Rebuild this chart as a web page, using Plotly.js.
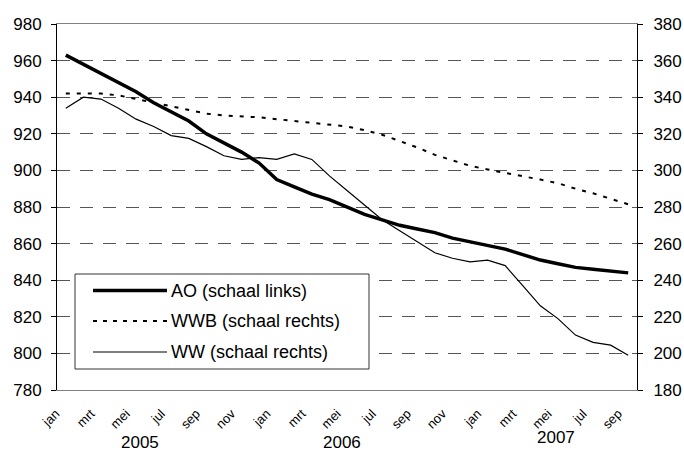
<!DOCTYPE html>
<html>
<head>
<meta charset="utf-8">
<script src="https://cdn.plot.ly/plotly-3.0.1.min.js"></script>
<style>html,body{margin:0;padding:0;background:#fff;}#chart{width:684px;height:455px;}</style>
</head>
<body>
<div id="chart"></div>
<script>
// Months Jan 2005 - Sep 2007
var months = ["jan","feb","mrt","apr","mei","jun","jul","aug","sep","okt","nov","dec",
              "jan","feb","mrt","apr","mei","jun","jul","aug","sep","okt","nov","dec",
              "jan","feb","mrt","apr","mei","jun","jul","aug","sep"];
var years = ["2005","2006","2007"];
var seriesNames = ["AO (schaal links)","WWB (schaal rechts)","WW (schaal rechts)"];
// AO (left axis)
var ao = [963,958,953,948,943,937,932,927,920,915,910,904,
          895,891,887,884,880,876,873,870,868,866,863,861,
          859,857,854,851,849,847,846,845,844];
// WWB (right axis)
var wwb = [342,342,342,341,339,337,335,333,331,330,329.5,329,
           328,327,326,325,324,322,319.5,316,312.5,308.5,305.5,302.5,
           300.5,298.5,296.8,295,293,290,287.5,284.5,281.5];
// WW (right axis)
var ww = [334,340,339,334,328,324,319,317.5,313,308,306,307,
          306,309,306,297,289,281,273,267,261,255,252,250,
          251,248,237,226,219,210,206,204.5,199];

var xIdx = months.map(function(_, i){ return i; });
var tickvals = xIdx.filter(function(i){ return i % 2 === 0; });
var ticktext = tickvals.map(function(i){ return months[i]; });

var FONT = "Liberation Sans, Arial, sans-serif";

var traces = [
  {x: xIdx, y: ao, name: seriesNames[0], type: "scatter", mode: "lines",
   line: {color: "#000", width: 3.5}, yaxis: "y"},
  {x: xIdx, y: wwb, name: seriesNames[1], type: "scatter", mode: "lines",
   line: {color: "#000", width: 2, dash: "4px,7px"}, yaxis: "y2"},
  {x: xIdx, y: ww, name: seriesNames[2], type: "scatter", mode: "lines",
   line: {color: "#000", width: 1.2}, yaxis: "y2"}
];

function px2x(px){ return (px - 57) / 580; }
function py2y(py){ return (390 - py) / 366; }

var legendRows = [290.5, 321, 352];
var legendStyles = [{width: 3.5}, {width: 2, dash: "4px,6px"}, {width: 1.2}];
var shapes = [
  {type: "rect", xref: "paper", yref: "paper", x0: px2x(75), x1: px2x(369), y0: py2y(369), y1: py2y(274),
   fillcolor: "#fff", line: {color: "#333", width: 1}, layer: "above"}
];
var annotations = [];
legendRows.forEach(function(py, k){
  shapes.push({type: "line", xref: "paper", yref: "paper", x0: px2x(93), x1: px2x(167), y0: py2y(py), y1: py2y(py),
    line: Object.assign({color: "#000"}, legendStyles[k]), layer: "above"});
  annotations.push({xref: "paper", yref: "paper", x: px2x(169), y: py2y(py), xanchor: "left", yanchor: "middle",
    text: seriesNames[k], showarrow: false, font: {family: FONT, size: 18, color: "#000"}});
});
var yearPos = [[140, 442], [342, 442], [556, 437]];
years.forEach(function(t, k){
  annotations.push({xref: "paper", yref: "paper", x: px2x(yearPos[k][0]), y: py2y(yearPos[k][1]),
    xanchor: "center", yanchor: "middle", text: t, showarrow: false,
    font: {family: FONT, size: 17, color: "#000"}});
});

var layout = {
  width: 684, height: 455,
  margin: {l: 57, r: 47, t: 24, b: 65, pad: 0},
  paper_bgcolor: "#fff", plot_bgcolor: "#fff",
  showlegend: false,
  font: {family: FONT, color: "#000"},
  xaxis: {range: [-0.5, 32.5], tickvals: tickvals, ticktext: ticktext, tickangle: -45,
          tickfont: {family: FONT, size: 13, color: "#000"}, showgrid: false, zeroline: false,
          showline: true, linecolor: "#808080", linewidth: 1, mirror: true, ticks: "",
          ticklabelstandoff: 10, ticklabelshift: -10},
  yaxis: {range: [780, 980], dtick: 20, tick0: 780, showgrid: true, gridcolor: "#555", griddash: "13px,10px", gridwidth: 1,
          zeroline: false, showline: true, linecolor: "#000", linewidth: 1, ticks: "outside", ticklen: 5,
          tickcolor: "#000", tickfont: {family: FONT, size: 17, color: "#000"}, ticklabelstandoff: 6},
  yaxis2: {range: [180, 380], dtick: 20, tick0: 180, overlaying: "y", side: "right", showgrid: false,
           zeroline: false, showline: true, linecolor: "#000", linewidth: 1, ticks: "outside", ticklen: 5,
           tickcolor: "#000", tickfont: {family: FONT, size: 17, color: "#000"}, ticklabelstandoff: 7},
  shapes: shapes,
  annotations: annotations
};

Plotly.newPlot("chart", traces, layout, {staticPlot: true, displayModeBar: false});
</script>
</body>
</html>
